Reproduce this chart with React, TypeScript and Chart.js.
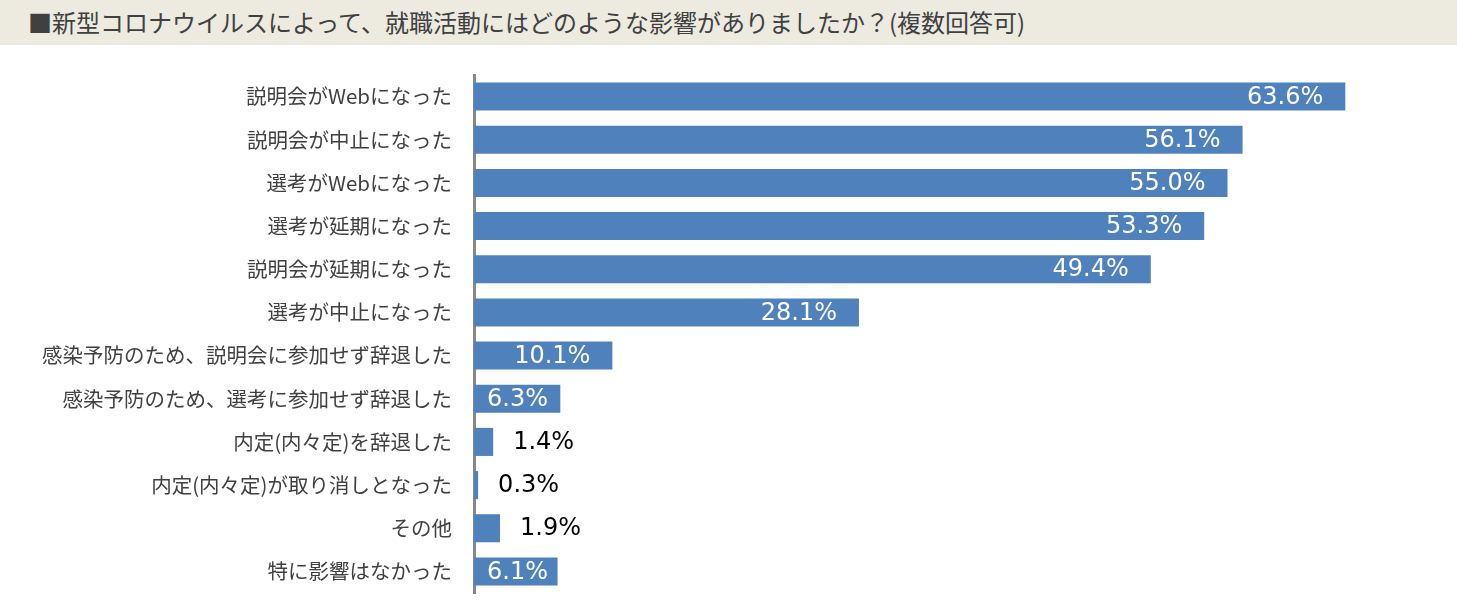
import React, { useEffect, useRef } from "react";
import { Chart, registerables } from "chart.js";

Chart.register(...registerables);

const TITLE = "■新型コロナウイルスによって、就職活動にはどのような影響がありましたか？(複数回答可)";

const categories: string[] = [
  "説明会がWebになった",
  "説明会が中止になった",
  "選考がWebになった",
  "選考が延期になった",
  "説明会が延期になった",
  "選考が中止になった",
  "感染予防のため、説明会に参加せず辞退した",
  "感染予防のため、選考に参加せず辞退した",
  "内定(内々定)を辞退した",
  "内定(内々定)が取り消しとなった",
  "その他",
  "特に影響はなかった",
];

const values: number[] = [63.6, 56.1, 55.0, 53.3, 49.4, 28.1, 10.1, 6.3, 1.4, 0.3, 1.9, 6.1];

const FONT = "'Noto Sans CJK JP', 'Noto Sans', sans-serif";
const NUM_FONT = "'DejaVu Sans', 'Noto Sans', sans-serif";

const labelPlugin = {
  id: "barLabels",
  afterDatasetsDraw(chart: any) {
    const ctx = chart.ctx;
    const meta = chart.getDatasetMeta(0);
    const left = chart.chartArea.left;
    ctx.save();
    ctx.font = `24px ${NUM_FONT}`;
    ctx.textBaseline = "middle";
    meta.data.forEach((bar: any, i: number) => {
      const v = values[i];
      const text = v.toFixed(1) + "%";
      const w = ctx.measureText(text).width;
      ctx.textAlign = "left";
      if (v >= 5) {
        ctx.fillStyle = "#FFFFFF";
        let x = bar.x - 22 - w;
        if (x < left + 13) x = left + 13;
        ctx.fillText(text, x, bar.y + 1);
      } else {
        ctx.fillStyle = "#000000";
        ctx.fillText(text, bar.x + 20, bar.y + 1);
      }
    });
    ctx.restore();
  },
};

export default function App() {
  const ref = useRef<HTMLCanvasElement | null>(null);

  useEffect(() => {
    document.body.style.margin = "0";
    if (!ref.current) return;
    const chart = new Chart(ref.current, {
      type: "bar",
      data: {
        labels: categories,
        datasets: [
          {
            data: values,
            backgroundColor: "#4F81BD",
            borderWidth: 0,
            barPercentage: 0.65,
            categoryPercentage: 1,
          },
        ],
      },
      options: {
        indexAxis: "y",
        animation: false,
        responsive: false,
        devicePixelRatio: 1,
        layout: { padding: { top: 30, bottom: 9, right: 24, left: 0 } },
        plugins: {
          legend: { display: false },
          tooltip: { enabled: false },
          title: { display: false },
        },
        scales: {
          x: {
            display: false,
            min: 0,
            max: 70,
          },
          y: {
            afterFit: (scale: any) => {
              scale.width = 474;
              scale.paddingTop = 0;
              scale.paddingBottom = 0;
            },
            grid: { display: false, drawTicks: false },
            border: { display: true, color: "#888888", width: 3 },
            ticks: {
              color: "#404040",
              font: { family: FONT, size: 20.5 },
              padding: 22,
            },
          },
        },
      },
      plugins: [labelPlugin],
    });
    return () => chart.destroy();
  }, []);

  return (
    <div style={{ position: "absolute", left: 0, top: 0, width: 1457, height: 602, background: "#FFFFFF" }}>
      <div
        style={{
          height: 45,
          background: "#EDEBE0",
          color: "#404040",
          fontFamily: FONT,
          fontSize: 24,
          lineHeight: "44px",
          paddingLeft: 28,
          whiteSpace: "nowrap",
          boxSizing: "border-box",
        }}
      >
        {TITLE}
      </div>
      <canvas ref={ref} width={1457} height={557} style={{ display: "block" }} />
    </div>
  );
}
